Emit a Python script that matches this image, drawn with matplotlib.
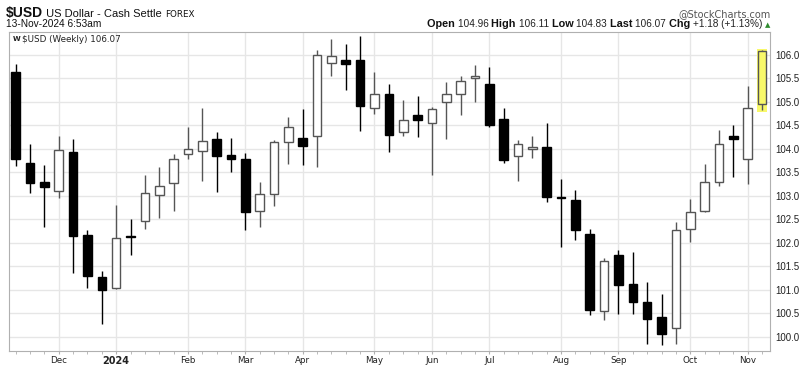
import matplotlib
matplotlib.use("Agg")
import matplotlib.pyplot as plt
from matplotlib.patches import Rectangle

# ---- data (weekly candles, Nov 13 2023 .. Nov 11 2024) ----
opens = [105.63, 103.69, 103.29, 103.09, 103.94, 102.16, 101.27, 101.03, 102.15, 102.47,
         103.01, 103.28, 103.88, 103.96, 104.20, 103.87, 103.77, 102.68, 103.03, 104.15,
         104.23, 104.26, 105.82, 105.88, 105.88, 104.87, 105.16, 104.35, 104.72, 104.54,
         104.99, 105.16, 105.50, 105.38, 104.64, 103.84, 104.00, 104.04, 102.98, 102.91,
         102.18, 100.54, 101.73, 101.11, 100.74, 100.42, 100.18, 102.29, 102.68, 103.30,
         104.27, 103.77, 104.96]
highs = [105.80, 104.10, 103.65, 104.26, 104.21, 102.26, 101.40, 102.80, 102.50, 103.43,
         103.60, 103.89, 104.46, 104.86, 104.35, 104.22, 103.90, 103.29, 104.19, 104.67,
         104.84, 106.10, 106.33, 106.23, 106.40, 105.63, 105.38, 105.03, 105.13, 104.89,
         105.41, 105.55, 105.78, 105.73, 104.87, 104.18, 104.28, 104.55, 103.35, 103.11,
         102.29, 101.68, 101.84, 101.80, 101.16, 100.91, 102.43, 102.93, 103.67, 104.40,
         104.50, 105.34, 106.11]
lows = [103.64, 103.05, 102.34, 102.95, 101.35, 101.03, 100.27, 101.01, 101.74, 102.29,
        102.52, 102.68, 103.77, 103.32, 103.08, 103.50, 102.27, 102.33, 102.79, 103.68,
        103.65, 103.62, 105.54, 105.25, 104.38, 104.73, 103.94, 104.26, 104.24, 103.44,
        104.20, 104.71, 104.99, 104.47, 103.70, 103.31, 103.80, 102.87, 101.91, 102.05,
        100.45, 100.36, 100.48, 100.48, 99.84, 99.82, 99.84, 102.02, 102.66, 103.21,
        103.40, 103.25, 104.83]
closes = [103.77, 103.28, 103.19, 103.97, 102.15, 101.30, 100.99, 102.09, 102.12, 103.05,
          103.21, 103.77, 103.99, 104.16, 103.84, 103.78, 102.65, 103.03, 104.15, 104.46,
          104.05, 106.00, 105.98, 105.80, 104.90, 105.16, 104.30, 104.62, 104.61, 104.84,
          105.16, 105.43, 105.54, 104.50, 103.76, 104.09, 104.03, 102.97, 102.94, 102.27,
          100.56, 101.60, 101.10, 100.74, 100.37, 100.06, 102.26, 102.65, 103.29, 104.11,
          104.20, 104.87, 106.07]

month_labels = ["Dec", "2024", "Feb", "Mar", "Apr", "May", "Jun", "Jul", "Aug", "Sep", "Oct", "Nov"]
month_index = [3, 7, 12, 16, 20, 25, 29, 33, 38, 42, 47, 51]
y_ticks = [100.0, 100.5, 101.0, 101.5, 102.0, 102.5, 103.0, 103.5, 104.0, 104.5, 105.0, 105.5, 106.0]

NARROW = ['Liberation Sans Narrow', 'Liberation Sans', 'DejaVu Sans']
ARIAL = ['Liberation Sans', 'DejaVu Sans']

fig = plt.figure(figsize=(8.05, 3.67), dpi=100)
ax = fig.add_axes([8.7 / 805, (367 - 350.7) / 367, (770 - 8.7) / 805, (350.7 - 31.7) / 367])

n = len(opens)
ax.set_xlim(-0.49, 52.56)
ax.set_ylim(99.70, 106.49)

# grid
for v in y_ticks:
    ax.axhline(v, color='#e6e6e6', lw=1.0, zorder=0)
for i in month_index:
    ax.axvline(i, color='#e6e6e6', lw=1.0, zorder=0)

# highlight last candle
last = n - 1
ax.add_patch(Rectangle((last - 0.37, lows[last] - 0.05), 0.74,
                       highs[last] - lows[last] + 0.06,
                       facecolor='#f8f86a', edgecolor='none', zorder=1))

bw = 0.6
for i in range(n):
    o, h, l, c = opens[i], highs[i], lows[i], closes[i]
    up = c >= o
    col = '#555555' if up else '#000000'
    ax.vlines(i, l, h, color=col, lw=1.0, zorder=2)
    bottom = min(o, c)
    height = max(abs(c - o), 0.03)
    if not up and abs(c - o) < 0.03:
        bottom = (o + c) / 2 - 0.015
    if i == last:
        fc = '#f8f86a'
    else:
        fc = '#ffffff' if up else '#000000'
    ax.add_patch(Rectangle((i - bw / 2, bottom), bw, height, facecolor=fc,
                           edgecolor=col, lw=1.0, zorder=3))

# axes styling
for s in ['left', 'bottom', 'right', 'top']:
    ax.spines[s].set_color('#b0b0b0')
    ax.spines[s].set_linewidth(0.8)

ax.yaxis.tick_right()
ax.set_yticks(y_ticks)
ax.set_yticklabels([f"{v:.1f}" for v in y_ticks], fontsize=7, family=ARIAL, color='#222222')
ax.tick_params(axis='y', length=0, pad=3.5)

ax.set_xticks(month_index)
ax.set_xticklabels(month_labels, fontsize=6.3, family=['DejaVu Sans'], color='#222222')
for lbl in ax.get_xticklabels():
    if lbl.get_text() == "2024":
        lbl.set_fontweight('bold')
        lbl.set_fontsize(7)
ax.set_xticks(range(n), minor=True)
ax.tick_params(axis='x', which='both', length=2, color='#b0b0b0', pad=1.5)

# legend inside plot
ax.text(0.005, 0.988, "W", transform=ax.transAxes, fontsize=5, fontweight='bold',
        va='top', ha='left', family=['DejaVu Sans'], color='#222222')
ax.text(0.017, 0.99, "$USD (Weekly) 106.07", transform=ax.transAxes, fontsize=6.3,
        va='top', ha='left', family=['DejaVu Sans'], color='#222222')

# header
fig.canvas.draw()
renderer = fig.canvas.get_renderer()

def row(pieces, x, y, align='left'):
    """pieces: list of (text, dict props); draw sequentially in pixel coords."""
    objs = []
    for txt, props in pieces:
        t = fig.text(0, y / 367, txt, transform=fig.transFigure, va='baseline', ha='left', **props)
        objs.append(t)
    widths = [t.get_window_extent(renderer).width for t in objs]
    total = sum(widths)
    cur = x if align == 'left' else x - total
    for t, w in zip(objs, widths):
        t.set_x(cur / 805)
        cur += w

row([("$USD", dict(fontsize=10, fontweight='bold', family=NARROW, color='#111111')),
     (" US Dollar - Cash Settle ", dict(fontsize=8, family=NARROW, color='#111111')),
     ("FOREX", dict(fontsize=6.3, family=['DejaVu Sans'], color='#111111'))],
    6, 367 - 17)
row([("13-Nov-2024 6:53am", dict(fontsize=7.3, family=NARROW, color='#111111'))], 6, 367 - 27.3)

b = dict(fontsize=7.8, fontweight='bold', family=NARROW, color='#111111')
r = dict(fontsize=7.2, family=ARIAL, color='#222222')
row([("Open ", b), ("104.96 ", r), ("High ", b), ("106.11 ", r), ("Low ", b), ("104.83 ", r),
     ("Last ", b), ("106.07 ", r), ("Chg ", b), ("+1.18 (+1.13%) ", r),
     ("▲", dict(fontsize=5, family=['DejaVu Sans'], color='#2e8b2e'))],
    770.5, 367 - 27.3, align='right')
row([("@StockCharts.com", dict(fontsize=7, family=['DejaVu Sans'], color='#555555'))],
    770.5, 367 - 16.7, align='right')

fig.savefig("out.png", dpi=100)
